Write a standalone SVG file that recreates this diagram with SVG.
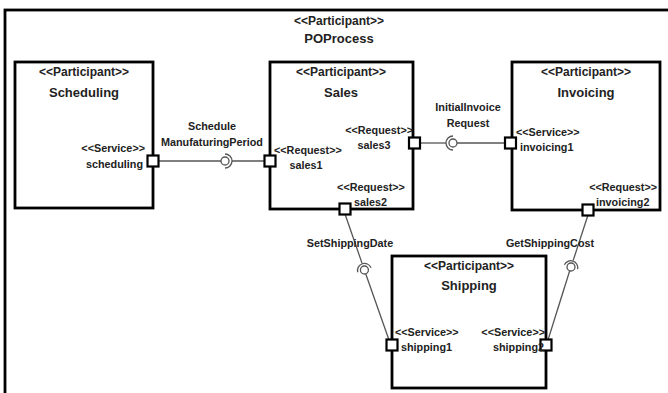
<svg xmlns="http://www.w3.org/2000/svg" width="668" height="393" viewBox="0 0 668 393">
<style>
.frame{fill:none;stroke:#000;stroke-width:2.8}
.box{fill:#fff;stroke:#000;stroke-width:2.8}
.port{fill:#fff;stroke:#000;stroke-width:2.2}
.conn{fill:none;stroke:#555;stroke-width:1.3}
.ball{fill:#fff;stroke:#555;stroke-width:1.3}
text{font-family:"Liberation Sans",Arial,sans-serif;font-weight:bold;fill:#222}
.st{font-size:12px;text-anchor:middle}
.nm{font-size:13px;text-anchor:middle}
.lb{font-size:10.8px}
.m{text-anchor:middle}
.e{text-anchor:end}
</style>
<rect width="668" height="393" fill="#fff"/>
<g id="POProcess">
<rect class="frame" x="5" y="10" width="700" height="420"/>
<text class="st" x="339" y="25">&lt;&lt;Participant&gt;&gt;</text>
<text class="nm" x="339" y="43">POProcess</text>
</g>
<g id="Scheduling">
<rect class="box" x="15" y="62" width="138" height="146"/>
<text class="st" x="84" y="76">&lt;&lt;Participant&gt;&gt;</text>
<text class="nm" x="84" y="97">Scheduling</text>
</g>
<g id="Sales">
<rect class="box" x="270" y="62" width="143" height="147"/>
<text class="st" x="341" y="76">&lt;&lt;Participant&gt;&gt;</text>
<text class="nm" x="341" y="97">Sales</text>
</g>
<g id="Invoicing">
<rect class="box" x="512" y="62" width="148" height="148"/>
<text class="st" x="586" y="76">&lt;&lt;Participant&gt;&gt;</text>
<text class="nm" x="586" y="97">Invoicing</text>
</g>
<g id="Shipping">
<rect class="box" x="392" y="256" width="154" height="132"/>
<text class="st" x="469" y="270">&lt;&lt;Participant&gt;&gt;</text>
<text class="nm" x="469" y="290">Shipping</text>
</g>
<g id="connectors">
<line class="conn" x1="158" y1="161" x2="221" y2="161"/>
<circle class="ball" cx="225" cy="161" r="4"/>
<path class="conn" d="M225,154 A7,7 0 0 1 225,168"/>
<line class="conn" x1="232" y1="161" x2="265" y2="161"/>
<line class="conn" x1="420" y1="143" x2="446" y2="143"/>
<path class="conn" d="M453,136 A7,7 0 0 0 453,150"/>
<circle class="ball" cx="453" cy="143" r="4"/>
<line class="conn" x1="457" y1="143" x2="505" y2="143"/>
<line class="conn" x1="345" y1="214" x2="362.1" y2="263.4"/>
<path class="conn" d="M371,267.7 A7,7 0 0 0 357.8,272.3"/>
<circle class="ball" cx="364.4" cy="270" r="4"/>
<line class="conn" x1="365.7" y1="273.8" x2="389" y2="340"/>
<line class="conn" x1="588" y1="215" x2="573.2" y2="260.4"/>
<path class="conn" d="M564.4,264.8 A7,7 0 0 1 577.6,269.2"/>
<circle class="ball" cx="571" cy="267" r="4"/>
<line class="conn" x1="569.7" y1="270.8" x2="548" y2="340"/>
<text class="lb m" x="212" y="130">Schedule</text>
<text class="lb m" x="212" y="146">ManufaturingPeriod</text>
<text class="lb m" x="468" y="111">InitialInvoice</text>
<text class="lb m" x="468" y="127">Request</text>
<text class="lb m" x="350" y="247">SetShippingDate</text>
<text class="lb m" x="550" y="247">GetShippingCost</text>
</g>
<g id="port-scheduling">
<rect class="port" x="147.5" y="155.5" width="11" height="11"/>
<text class="lb e" x="145" y="152">&lt;&lt;Service&gt;&gt;</text>
<text class="lb e" x="143" y="168">scheduling</text>
</g>
<g id="port-sales1">
<rect class="port" x="264.5" y="155.5" width="11" height="11"/>
<text class="lb" x="274" y="154">&lt;&lt;Request&gt;&gt;</text>
<text class="lb m" x="306" y="169">sales1</text>
</g>
<g id="port-sales3">
<rect class="port" x="409" y="137.5" width="11" height="11"/>
<text class="lb e" x="413" y="134">&lt;&lt;Request&gt;&gt;</text>
<text class="lb m" x="374" y="149">sales3</text>
</g>
<g id="port-sales2">
<rect class="port" x="339.5" y="203.5" width="11" height="11"/>
<text class="lb m" x="371" y="191">&lt;&lt;Request&gt;&gt;</text>
<text class="lb" x="354" y="206">sales2</text>
</g>
<g id="port-invoicing1">
<rect class="port" x="505" y="137.5" width="11" height="11"/>
<text class="lb" x="516" y="136">&lt;&lt;Service&gt;&gt;</text>
<text class="lb" x="520" y="151">invoicing1</text>
</g>
<g id="port-invoicing2">
<rect class="port" x="582.5" y="204.5" width="11" height="11"/>
<text class="lb e" x="657" y="191">&lt;&lt;Request&gt;&gt;</text>
<text class="lb" x="596" y="206">invoicing2</text>
</g>
<g id="port-shipping1">
<rect class="port" x="386.5" y="339.5" width="11" height="11"/>
<text class="lb" x="395" y="336">&lt;&lt;Service&gt;&gt;</text>
<text class="lb" x="401" y="351">shipping1</text>
</g>
<g id="port-shipping2">
<rect class="port" x="540.5" y="339.5" width="11" height="11"/>
<text class="lb e" x="545" y="336">&lt;&lt;Service&gt;&gt;</text>
<text class="lb e" x="544" y="351">shipping2</text>
</g>
</svg>
